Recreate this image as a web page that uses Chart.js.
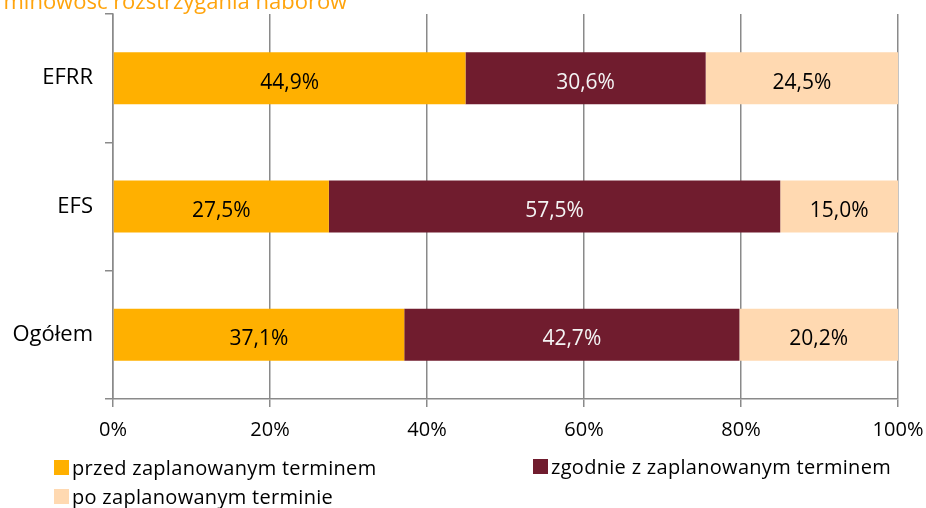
<!DOCTYPE html>
<html>
<head>
<meta charset="utf-8">
<script src="https://cdn.jsdelivr.net/npm/chart.js@4.4.1/dist/chart.umd.min.js"></script>
<style>
  html, body { margin: 0; padding: 0; background: #ffffff; overflow: hidden; }
  #wrap { position: relative; width: 926px; height: 508px; overflow: hidden; }
  #title { position: absolute; left: -30px; top: -11px; font: 22px "Open Sans", sans-serif; line-height: 22px; color: #FFA40C; white-space: nowrap; }
  .lg { position: absolute; font: 20px "Open Sans", sans-serif; line-height: 20px; color: #000; white-space: nowrap; letter-spacing: 0.3px; }
  .lg span.sw { position: absolute; left: 0; width: 15px; height: 15px; }
  .lg span.tx { position: absolute; left: 18px; top: -2px; }
</style>
</head>
<body>
<div id="wrap">
  <canvas id="c" width="926" height="508"></canvas>
  <div id="title">Terminowość rozstrzygania naborów</div>
  <div id="legend"></div>
</div>
<script>
const categories = ["EFRR", "EFS", "Ogółem"];
const seriesNames = ["przed zaplanowanym terminem", "zgodnie z zaplanowanym terminem", "po zaplanowanym terminie"];
const przed = [44.9, 27.5, 37.1];
const zgodnie = [30.6, 57.5, 42.7];
const po = [24.5, 15.0, 20.2];
const xTicks = [0, 20, 40, 60, 80, 100];

const colors = ["#FFB000", "#701C2E", "#FFD9B1"];
const labelColors = ["#000000", "#F4F4F4", "#000000"];
const FONT = '"Open Sans", sans-serif';

const fmt = v => v.toFixed(1).replace('.', ',') + '%';

const dataLabels = {
  id: 'dataLabels',
  afterDatasetsDraw(chart) {
    const ctx = chart.ctx;
    ctx.save();
    ctx.font = '21px ' + FONT;
    ctx.textAlign = 'center';
    ctx.textBaseline = 'alphabetic';
    chart.data.datasets.forEach((ds, i) => {
      const meta = chart.getDatasetMeta(i);
      meta.data.forEach((el, j) => {
        const p = el.getCenterPoint();
        ctx.fillStyle = labelColors[i];
        ctx.fillText(fmt(ds.data[j]), p.x, p.y + 10.5);
      });
    });
    ctx.restore();
  }
};

const gridColor = '#8A8A8A';

const chart = new Chart(document.getElementById('c'), {
  type: 'bar',
  data: {
    labels: categories,
    datasets: [
      { label: seriesNames[0], data: przed, backgroundColor: colors[0] },
      { label: seriesNames[1], data: zgodnie, backgroundColor: colors[1] },
      { label: seriesNames[2], data: po, backgroundColor: colors[2] }
    ]
  },
  options: {
    indexAxis: 'y',
    responsive: false,
    devicePixelRatio: 1,
    animation: false,
    layout: { padding: { top: 14, right: 28, bottom: 60, left: 0 } },
    datasets: { bar: { categoryPercentage: 1, barPercentage: 0.405, borderWidth: 0 } },
    plugins: { legend: { display: false }, tooltip: { enabled: false }, title: { display: false } },
    scales: {
      x: {
        stacked: true,
        min: 0, max: 100,
        afterBuildTicks: s => { s.ticks = xTicks.map(v => ({ value: v })); },
        ticks: { callback: v => v + '%', font: { family: FONT, size: 20 }, color: '#000', padding: 11, maxRotation: 0 },
        grid: { color: gridColor, lineWidth: 1.5, tickLength: 8, drawTicks: true },
        border: { color: gridColor, width: 1.5 },
        afterFit: s => { s.height = 49; s.paddingLeft = 0; s.paddingRight = 0; s.paddingTop = 0; s.paddingBottom = 0; }
      },
      y: {
        stacked: true,
        ticks: { font: { family: FONT, size: 22 }, color: '#000', padding: 12 },
        grid: { color: gridColor, lineWidth: 1.5, tickLength: 8, drawOnChartArea: false, offset: true },
        border: { color: gridColor, width: 1.5 },
        afterFit: s => { s.width = 113; s.paddingTop = 0; s.paddingBottom = 0; s.paddingLeft = 0; s.paddingRight = 0; }
      }
    }
  },
  plugins: [dataLabels]
});

// HTML legend built from the datasets
const legendPos = [{ left: 54, top: 460 }, { left: 533, top: 459 }, { left: 54, top: 489 }];
const lg = document.getElementById('legend');
chart.data.datasets.forEach((ds, i) => {
  const d = document.createElement('div');
  d.className = 'lg';
  d.style.left = legendPos[i].left + 'px';
  d.style.top = legendPos[i].top + 'px';
  const sw = document.createElement('span');
  sw.className = 'sw';
  sw.style.background = ds.backgroundColor;
  const tx = document.createElement('span');
  tx.className = 'tx';
  tx.textContent = ds.label;
  d.appendChild(sw); d.appendChild(tx);
  lg.appendChild(d);
});
</script>
</body>
</html>
